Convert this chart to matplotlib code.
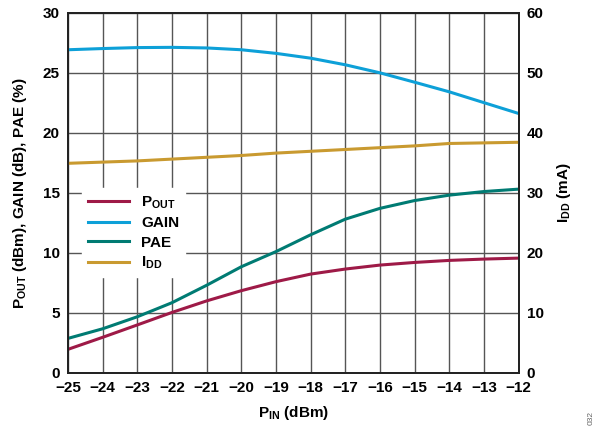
import matplotlib
matplotlib.use("Agg")
import matplotlib.pyplot as plt

pin = [-25, -24, -23, -22, -21, -20, -19, -18, -17, -16, -15, -14, -13, -12]
pout = [1.97, 2.97, 4.0, 5.04, 6.0, 6.85, 7.6, 8.23, 8.65, 8.98, 9.2, 9.37, 9.48, 9.56]
gain = [26.9, 27.0, 27.08, 27.1, 27.05, 26.9, 26.6, 26.2, 25.65, 24.98, 24.2, 23.4, 22.5, 21.6]
pae = [2.88, 3.68, 4.68, 5.85, 7.3, 8.84, 10.1, 11.5, 12.8, 13.7, 14.35, 14.8, 15.1, 15.3]
idd = [34.9, 35.1, 35.3, 35.6, 35.9, 36.2, 36.6, 36.9, 37.2, 37.5, 37.8, 38.2, 38.3, 38.4]

xticks = list(range(-25, -11))
xticklabels = ["\u2212%d" % abs(v) for v in xticks]

plt.rcParams['font.family'] = ['Liberation Sans', 'DejaVu Sans']
plt.rcParams['font.weight'] = 'bold'
plt.rcParams['mathtext.fontset'] = 'custom'
plt.rcParams['mathtext.rm'] = 'Liberation Sans:bold'
plt.rcParams['mathtext.bf'] = 'Liberation Sans:bold'
plt.rcParams['mathtext.it'] = 'Liberation Sans:bold'

fig = plt.figure(figsize=(5.97, 4.30), dpi=100)
ax = fig.add_axes([68/597, 1-373/430, (518.5-68)/597, (373-12.5)/430])
ax2 = ax.twinx()

c_pout = '#9E1A47'
c_gain = '#0DA0D8'
c_pae = '#007B73'
c_idd = '#C99A30'

lw = 2.2
l1, = ax.plot(pin, pout, color=c_pout, lw=lw, label=r'$\mathrm{P_{OUT}}$')
l2, = ax.plot(pin, gain, color=c_gain, lw=lw, label='GAIN')
l3, = ax.plot(pin, pae, color=c_pae, lw=lw, label='PAE')
l4, = ax2.plot(pin, idd, color=c_idd, lw=lw, label=r'$\mathrm{I_{DD}}$')

ax.set_xlim(-25, -12)
ax.set_ylim(0, 30)
ax2.set_ylim(0, 60)
ax.set_xticks(xticks)
ax.set_xticklabels(xticklabels)
ax.set_yticks(range(0, 31, 5))
ax2.set_yticks(range(0, 61, 10))

ax.grid(True, color='#555555', lw=1.0)
ax.set_axisbelow(True)
ax.tick_params(length=0, labelsize=11, pad=6)
ax2.tick_params(length=0, labelsize=11, pad=6)
for sp in ax.spines.values():
    sp.set_linewidth(1.3)
    sp.set_color('#222222')
for sp in ax2.spines.values():
    sp.set_linewidth(1.3)
    sp.set_color('#222222')
for lab in ax.get_xticklabels() + ax.get_yticklabels() + ax2.get_yticklabels():
    lab.set_fontweight('bold')

ax.set_xlabel(r'$\mathrm{P_{IN}}$ (dBm)', fontsize=11, fontweight='bold', labelpad=6)
ax.set_ylabel(r'$\mathrm{P_{OUT}}$ (dBm), GAIN (dB), PAE (%)', fontsize=11, fontweight='bold', labelpad=10)
ax2.set_ylabel(r'$\mathrm{I_{DD}}$ (mA)', fontsize=11, fontweight='bold', labelpad=8)

leg = ax2.legend(handles=[l1, l2, l3, l4], loc='upper left', bbox_to_anchor=(0.02, 0.525),
                 frameon=True, fancybox=False, edgecolor='white', framealpha=1.0,
                 fontsize=11, handlelength=2.7, handletextpad=0.8, labelspacing=0.35,
                 borderaxespad=0.3)
for t in leg.get_texts():
    t.set_fontweight('bold')

fig.text(0.99, 0.028, '032', rotation=90, fontsize=6, color='#666666', fontweight='normal',
         ha='center', va='center')

fig.savefig('out.png', dpi=100)
